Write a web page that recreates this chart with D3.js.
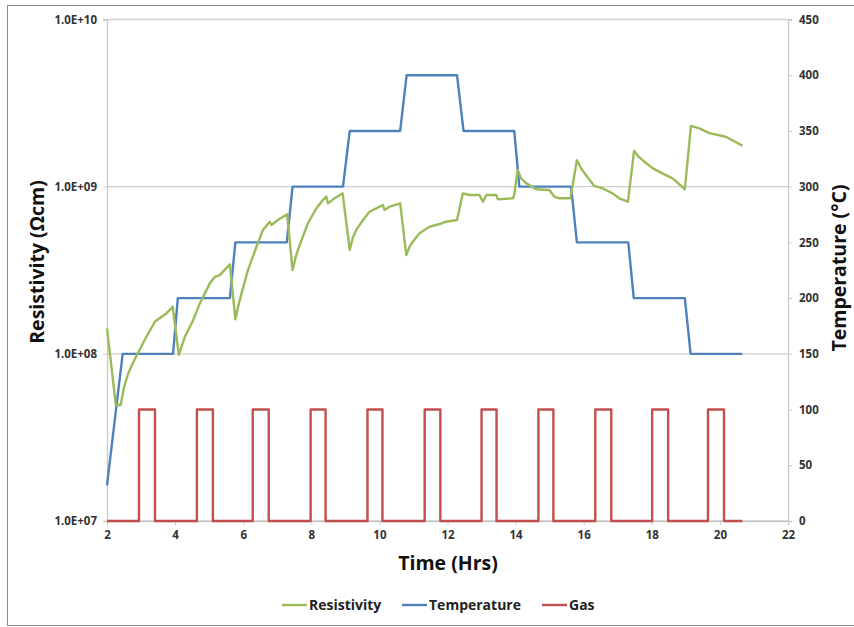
<!DOCTYPE html>
<html><head><meta charset="utf-8">
<script src="https://cdn.jsdelivr.net/npm/d3@7/dist/d3.min.js"></script>
<style>body{margin:0;background:#fff}svg{display:block}text{font-family:"Open Sans","Liberation Sans",sans-serif}</style>
</head><body><svg id="c" width="854" height="627"></svg>
<script>
// Resistivity (Ohm cm) vs time (hrs)
const resTime = [2.0,2.26,2.40,2.50,2.62,2.77,2.97,3.16,3.41,3.75,3.93,4.11,4.20,4.29,4.53,4.73,5.02,5.17,5.31,5.61,5.77,5.86,5.95,6.14,6.39,6.58,6.78,6.83,7.02,7.29,7.45,7.55,7.66,7.90,8.15,8.34,8.44,8.49,8.64,8.92,9.13,9.22,9.32,9.52,9.71,10.01,10.10,10.15,10.30,10.61,10.79,10.88,10.98,11.18,11.47,11.77,11.96,12.28,12.45,12.65,12.94,13.04,13.14,13.43,13.48,13.92,13.96,14.06,14.16,14.31,14.60,14.99,15.14,15.28,15.61,15.80,15.93,16.07,16.31,16.55,16.85,17.04,17.30,17.48,17.60,17.73,18.02,18.31,18.61,18.97,19.15,19.40,19.69,20.17,20.66];
const resValue = [1.42e8,4.94e7,4.94e7,6.3e7,7.6e7,8.9e7,1.07e8,1.27e8,1.56e8,1.75e8,1.91e8,9.85e7,1.12e8,1.27e8,1.59e8,2.01e8,2.64e8,2.89e8,2.96e8,3.43e8,1.61e8,1.95e8,2.30e8,3.17e8,4.37e8,5.51e8,6.17e8,5.90e8,6.32e8,6.84e8,3.17e8,3.85e8,4.48e8,6.04e8,7.43e8,8.32e8,8.71e8,7.95e8,8.40e8,9.12e8,4.18e8,4.95e8,5.51e8,6.32e8,7.08e8,7.59e8,7.77e8,7.25e8,7.59e8,7.95e8,3.90e8,4.35e8,4.69e8,5.26e8,5.76e8,5.98e8,6.17e8,6.32e8,9.12e8,8.92e8,8.92e8,8.13e8,8.92e8,8.92e8,8.40e8,8.52e8,8.92e8,1.26e9,1.12e9,1.05e9,9.65e8,9.55e8,8.71e8,8.52e8,8.52e8,1.44e9,1.28e9,1.17e9,1.01e9,9.78e8,9.12e8,8.52e8,8.13e8,1.64e9,1.52e9,1.44e9,1.29e9,1.20e9,1.12e9,9.65e8,2.31e9,2.23e9,2.09e9,1.99e9,1.76e9];
// Temperature (°C)
const tempTime = [2.0,2.46,3.94,4.08,5.61,5.77,7.28,7.45,8.93,9.13,10.61,10.80,12.28,12.47,13.96,14.11,15.63,15.80,17.31,17.47,18.97,19.14,20.66];
const tempValue = [32,150,150,200,200,250,250,300,300,350,350,400,400,350,350,300,300,250,250,200,200,150,150];
// Gas pulses (on = 100 on right axis)
const gasOn  = [2.94,4.64,6.28,7.98,9.65,11.33,13.00,14.67,16.34,18.01,19.65];
const gasOff = [3.41,5.11,6.75,8.42,10.09,11.79,13.44,15.11,16.81,18.48,20.12];
const gasLevel = 100, gasStart = 2.0, gasEnd = 20.66;

const xTicks = [2,4,6,8,10,12,14,16,18,20,22];
const yLeftTicks = [1e7,1e8,1e9,1e10];
const yLeftLabels = ["1.0E+07","1.0E+08","1.0E+09","1.0E+10"];
const yRightTicks = [0,50,100,150,200,250,300,350,400,450];
const seriesNames = ["Resistivity","Temperature","Gas"];
const seriesColors = ["#9BBB59","#4F81BD","#C0504D"];

const svg = d3.select("#c");
const L=107, R=788, T=19.5, B=521;
const x = d3.scaleLinear().domain([2,22]).range([L,R]);
const yL = d3.scaleLog().domain([1e7,1e10]).range([B,T]);
const yR = d3.scaleLinear().domain([0,450]).range([B,T]);

// outer frame
svg.append("rect").attr("x",7.5).attr("y",5.5).attr("width",852).attr("height",620)
  .attr("fill","none").attr("stroke","#8c8c8c").attr("stroke-width",1);

// gridlines
svg.append("g").selectAll("line").data(yLeftTicks).join("line")
  .attr("x1",L).attr("x2",R).attr("y1",d=>yL(d)).attr("y2",d=>yL(d))
  .attr("stroke","#d0d0d0").attr("stroke-width",1.3);

// axes
const gl = svg.append("g").attr("transform",`translate(${L},0)`)
  .call(d3.axisLeft(yL).tickValues(yLeftTicks).tickFormat((d,i)=>yLeftLabels[i]).tickSize(4).tickPadding(6));
const gr = svg.append("g").attr("transform",`translate(${R},0)`)
  .call(d3.axisRight(yR).tickValues(yRightTicks).tickSize(4).tickPadding(7));
const gb = svg.append("g").attr("transform",`translate(0,${B})`)
  .call(d3.axisBottom(x).tickValues(xTicks).tickSize(4).tickPadding(6));
[gl,gr,gb].forEach(g=>{
  g.select(".domain").attr("stroke","#c8c8c8").attr("stroke-width",1.3);
  g.selectAll(".tick line").attr("stroke","#c8c8c8");
  g.selectAll(".tick text").attr("fill","#333").attr("font-size","11.5px").attr("font-weight","bold")
   .style("font-family","'Open Sans',sans-serif");
});

// gas
const gasPts = [[gasStart,0]];
gasOn.forEach((t,i)=>{gasPts.push([t,0],[t,gasLevel],[gasOff[i],gasLevel],[gasOff[i],0]);});
gasPts.push([gasEnd,0]);
const lineR = d3.line().x(d=>x(d[0])).y(d=>yR(d[1]));
svg.append("path").datum(gasPts).attr("d",lineR).attr("fill","none")
  .attr("stroke",seriesColors[2]).attr("stroke-width",2.4).attr("stroke-linejoin","round");

// temperature
svg.append("path").datum(tempTime.map((t,i)=>[t,tempValue[i]])).attr("d",lineR).attr("fill","none")
  .attr("stroke",seriesColors[1]).attr("stroke-width",2.4).attr("stroke-linejoin","round");

// resistivity
const lineL = d3.line().x(d=>x(d[0])).y(d=>yL(d[1]));
svg.append("path").datum(resTime.map((t,i)=>[t,resValue[i]])).attr("d",lineL).attr("fill","none")
  .attr("stroke",seriesColors[0]).attr("stroke-width",2.4).attr("stroke-linejoin","round");

// axis titles
svg.append("text").attr("transform","translate(44,262) rotate(-90)").attr("text-anchor","middle")
  .attr("font-size","19.5px").attr("font-weight","bold").attr("fill","#111").text("Resistivity (Ωcm)");
svg.append("text").attr("transform","translate(846,268) rotate(-90)").attr("text-anchor","middle")
  .attr("font-size","19.5px").attr("font-weight","bold").attr("fill","#111").text("Temperature (°C)");
svg.append("text").attr("x",448).attr("y",570).attr("text-anchor","middle")
  .attr("font-size","19.5px").attr("font-weight","bold").attr("fill","#111").text("Time (Hrs)");

// legend
const legX = [282,402,542];
const lg = svg.append("g");
seriesNames.forEach((n,i)=>{
  lg.append("line").attr("x1",legX[i]).attr("x2",legX[i]+25).attr("y1",605).attr("y2",605)
    .attr("stroke",seriesColors[i]).attr("stroke-width",2.4);
  lg.append("text").attr("x",legX[i]+27).attr("y",610).attr("font-size","14px").attr("font-weight","bold")
    .attr("fill","#222").text(n);
});
</script></body></html>
